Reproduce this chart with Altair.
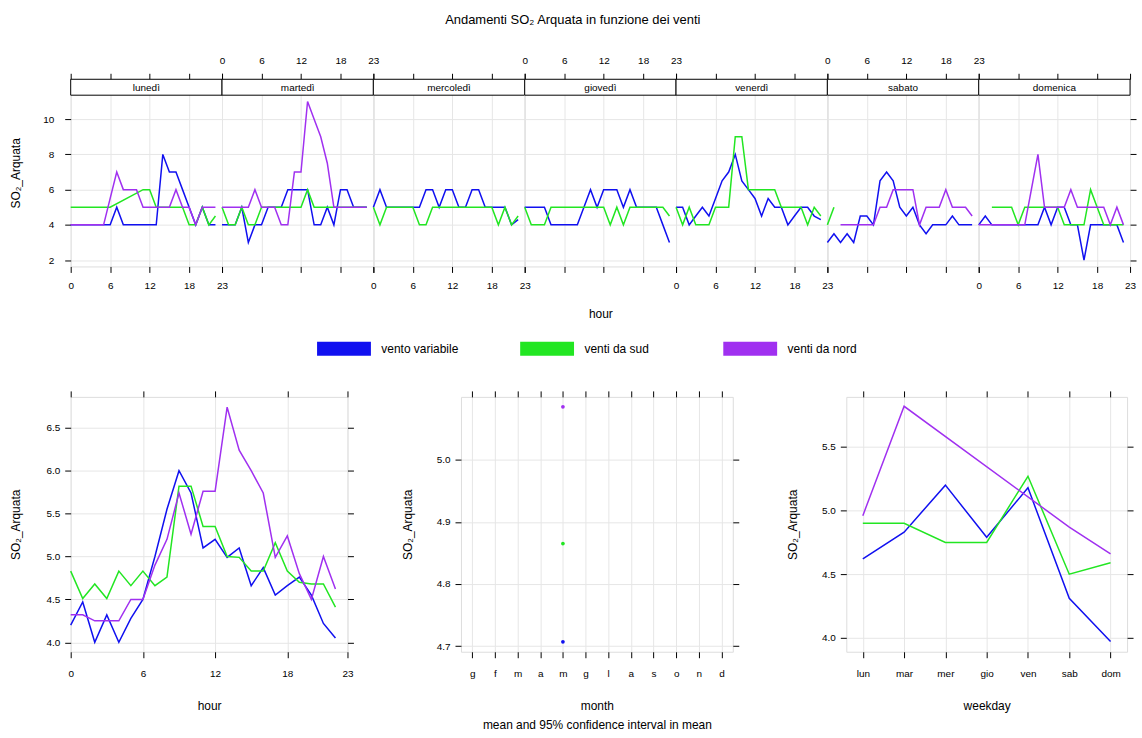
import json
import altair as alt
import pandas as pd

FONT = "Liberation Sans"
GRID = "#e6e6e6"
GROUPS = ["vento variabile", "venti da sud", "venti da nord"]
COLORS = ["#1010f0", "#22e622", "#a030f0"]
DAYS = ["lunedì", "martedì", "mercoledì", "giovedì", "venerdì", "sabato", "domenica"]
HOURS = list(range(23))
HOUR_TICKS = [0, 6, 12, 18, 23]
TOP_Y_TICKS = [2, 4, 6, 8, 10]
MONTH_LABELS = ["g", "f", "m", "a", "m", "g", "l", "a", "s", "o", "n", "d"]
WEEKDAY_LABELS = ["lun", "mar", "mer", "gio", "ven", "sab", "dom"]
N = None

# ---- hourly values by weekday (hour 0..22) ----
lun_var = [4, 4, 4, 4, 4, 4, 4, 5, 4, 4, 4, 4, 4, 4, 8, 7, 7, 6, 5, 4, 5, 4, 4]
lun_sud = [5, 5, 5, 5, 5, 5, 5, N, N, N, N, 6, 6, 5, 5, 5, 5, 5, 4, 4, 5, 4, 4.5]
lun_nord = [4, 4, 4, 4, 4, 4, 5.5, 7, 6, 6, 6, 5, 5, 5, 5, 5, 6, 5, 5, 4, 5, 5, 5]

mar_var = [4, 4, 4, 5, 3, 4, 4, 5, 5, 5, 6, 6, 6, 6, 4, 4, 5, 4, 6, 6, 5, 5, 5]
mar_sud = [5, 4, 4, 5, 4, 4, 5, 5, 5, 5, 5, 5, 5, 6, 5, 5, 5, 5, 5, 5, 5, 5, 5]
mar_nord = [5, 5, 5, 5, 5, 6, 5, 5, 5, 4, 4, 7, 7, 11, 10, 9, 7.5, 5, 5, 5, 5, 5, 5]

mer_var = [5, 6, 5, 5, 5, 5, 5, 5, 6, 6, 5, 6, 6, 5, 5, 6, 6, 5, 5, 5, 5, 4, 4.3]
mer_sud = [5, 4, 5, 5, 5, 5, 5, 4, 4, 5, 5, 5, 5, 5, 5, 5, 5, 5, 5, 4, 5, 4, 4.5]
mer_nord = [N] * 23

gio_var = [5, 5, 5, 5, 4, 4, 4, 4, 4, 5, 6, 5, 6, 6, 6, 5, 6, 5, 5, 5, 5, 4, 3]
gio_sud = [5, 4, 4, 4, 5, 5, 5, 5, 5, 5, 5, 5, 5, 4, 5, 4, 5, 5, 5, 5, 5, 5, 4.5]
gio_nord = [N] * 23

ven_var = [5, 5, 4, 4.5, 5, 4.5, 5.5, 6.5, 7, 8, 6.5, 6, 5.5, 4.5, 5.5, 5, 5, 4, 4.5, 5, 5, 4.5, 4.3]
ven_sud = [5, 4, 5, 4, 4, 4, 5, 5, 5, 9, 9, 6, 6, 6, 6, 6, 5, 5, 5, 5, 4, 5, 4.5]
ven_nord = [N] * 23

sab_var = [3, 3.5, 3, 3.5, 3, 4.5, 4.5, 4, 6.5, 7, 6.5, 5, 4.5, 5, 4, 3.5, 4, 4, 4, 4.5, 4, 4, 4]
sab_sud = [4, 5] + [N] * 21
sab_nord = [N, N, 4, 4, 4, 4, 4, 4, 5, 5, 6, 6, 6, 6, 4, 5, 5, 5, 6, 5, 5, 5, 4.5]

dom_var = [4, 4.5, 4, 4, 4, 4, 4, 4, 4, 4, 5, 4, 5, 5, 4, 4, 2, 4, 4, 4, 4, 4, 3]
dom_sud = [N, N, 5, 5, 5, 5, 4, 5, 5, 5, 5, 5, 5, 4, 4, 4, 4, 6, 5, 4, 4, 4, 4]
dom_nord = [4, 4, 4, 4, 4, 4, 4, 4, 6, 8, 5, 5, 5, 5, 6, 5, 5, 5, 5, 5, 4, 5, 4]

TOP_SERIES = {
    "lunedì": (lun_var, lun_sud, lun_nord),
    "martedì": (mar_var, mar_sud, mar_nord),
    "mercoledì": (mer_var, mer_sud, mer_nord),
    "giovedì": (gio_var, gio_sud, gio_nord),
    "venerdì": (ven_var, ven_sud, ven_nord),
    "sabato": (sab_var, sab_sud, sab_nord),
    "domenica": (dom_var, dom_sud, dom_nord),
}

# ---- mean by hour ----
hour_var = [4.2, 4.47, 4.0, 4.32, 4.0, 4.28, 4.5, 5.0, 5.55, 6.0, 5.74, 5.1, 5.2, 4.99, 5.1,
            4.66, 4.87, 4.55, 4.66, 4.76, 4.55, 4.22, 4.05]
hour_sud = [4.83, 4.51, 4.68, 4.51, 4.83, 4.66, 4.83, 4.66, 4.76, 5.82, 5.82, 5.35, 5.35, 5.0,
            4.99, 4.83, 4.83, 5.16, 4.83, 4.7, 4.68, 4.68, 4.41]
hour_nord = [4.32, 4.32, 4.25, 4.25, 4.25, 4.5, 4.5, 4.9, 5.2, 5.74, 5.26, 5.76, 5.76, 6.74,
             6.24, 6.0, 5.74, 4.99, 5.24, 4.8, 4.5, 5.0, 4.62]

# ---- mean by month (only May present) ----
MONTH_NUM = [5, 5, 5]
month_val = [4.707, 4.865, 5.085]

# ---- mean by weekday ----
wd_var = [4.62, 4.83, 5.20, 4.79, 5.18, 4.31, 3.97]
wd_sud = [4.90, 4.90, 4.75, 4.75, 5.27, 4.50, 4.59]
wd_nord = [4.96, 5.82, N, N, N, 4.87, 4.66]

TITLE = "Andamenti SO₂ Arquata in funzione dei venti"
Y_TITLE = "SO₂_Arquata"


def long_df(xname, xs, series):
    rows = []
    for grp, vals in zip(GROUPS, series):
        for x, v in zip(xs, vals):
            if v is not None:
                rows.append({"group": grp, xname: x, "value": v})
    return pd.DataFrame(rows)


top_parts = []
for day, triple in TOP_SERIES.items():
    d = long_df("hour", HOURS, triple)
    d["day"] = day
    top_parts.append(d)
top_df = pd.concat(top_parts, ignore_index=True)
hour_df = long_df("hour", HOURS, (hour_var, hour_sud, hour_nord))
month_df = pd.DataFrame({"group": GROUPS, "month": MONTH_NUM, "value": month_val})
wd_df = long_df("wd", list(range(1, 8)), (wd_var, wd_sud, wd_nord))

COLOR_SCALE = alt.Scale(domain=GROUPS, range=COLORS)


def ax(**kw):
    base = dict(labelFont=FONT, titleFont=FONT, labelFontSize=10, titleFontSize=12,
                titleFontWeight="normal", labelColor="black", titleColor="black",
                tickColor="black", domain=False, gridColor=GRID, gridWidth=1,
                labelFlush=False, labelOverlap=False)
    base.update(kw)
    return alt.Axis(**base)


PW, PH, SH = 152, 172, 16
TOP_YMIN, TOP_YMAX_DATA = 1.64, 11.36
TOP_YMAX = TOP_YMAX_DATA + SH * (TOP_YMAX_DATA - TOP_YMIN) / PH  # room for the strip


def top_panel(i, day):
    d = top_df[top_df.day == day]
    xs = alt.Scale(domain=[0, 23], nice=False, zero=False)
    ys = alt.Scale(domain=[TOP_YMIN, TOP_YMAX], nice=False, zero=False)
    xa = ax(values=HOUR_TICKS, tickSize=6, labels=(i % 2 == 0), labelPadding=8, grid=True,
            title=("hour" if i == 3 else None), titlePadding=36)
    if i == 0:
        ya = ax(values=TOP_Y_TICKS, tickSize=6, labelPadding=11, grid=True, title=Y_TITLE,
                titlePadding=20)
    elif i == 6:
        ya = ax(orient="right", values=TOP_Y_TICKS, tickSize=6, labels=False, grid=True, title=None)
    else:
        ya = ax(values=TOP_Y_TICKS, ticks=False, labels=False, grid=True, title=None)
    lines = alt.Chart(d).mark_line(strokeWidth=1.5).encode(
        x=alt.X("hour:Q", scale=xs, axis=xa),
        y=alt.Y("value:Q", scale=ys, axis=ya),
        color=alt.Color("group:N", scale=COLOR_SCALE, legend=None),
    )
    sd = pd.DataFrame({"day": [day]})
    strip_rect = alt.Chart(sd).mark_rect(fill="white", stroke="black", strokeWidth=1).encode(
        x=alt.value(0), x2=alt.value(PW), y=alt.value(0), y2=alt.value(SH))
    strip_text = alt.Chart(sd).mark_text(font=FONT, fontSize=10, color="black").encode(
        text="day:N", x=alt.value(PW / 2), y=alt.value(SH / 2 + 1))
    sa = ax(orient="top", values=HOUR_TICKS, tickSize=6, labels=(i % 2 == 1), labelPadding=8,
            grid=False, title=None)
    ghost = alt.Chart(pd.DataFrame({"hour": HOURS})).mark_point(opacity=0).encode(
        x=alt.X("hour:Q", scale=xs, axis=sa))
    return alt.layer(lines, strip_rect, strip_text, ghost).resolve_axis(x="independent").properties(
        width=PW, height=PH + SH)


BH = 256


def framed(main, ghost, width):
    return alt.layer(main, ghost).resolve_axis(x="independent", y="independent").properties(
        width=width, height=BH)


# hour panel
hxs = alt.Scale(domain=[0, 23], nice=False, zero=False)
hys = alt.Scale(domain=[3.89, 6.86], nice=False, zero=False)
hyt = [4.0, 4.5, 5.0, 5.5, 6.0, 6.5]
legend = alt.Legend(orient="none", legendX=262, legendY=-61, direction="horizontal", columns=3,
                    gridAlign="all", columnPadding=33, title=None, symbolType="M-5,0H5",
                    symbolSize=117, symbolStrokeWidth=14, symbolOpacity=1, labelFont=FONT,
                    labelFontSize=12, labelColor="black", labelOffset=25)
hour_main = alt.Chart(hour_df).mark_line(strokeWidth=1.5).encode(
    x=alt.X("hour:Q", scale=hxs, axis=ax(values=HOUR_TICKS, tickSize=6, labelPadding=11, grid=True,
                                          title="hour", titlePadding=22)),
    y=alt.Y("value:Q", scale=hys, axis=ax(values=hyt, format=".1f", tickSize=6, labelPadding=5,
                                           grid=True, title=Y_TITLE, titlePadding=24)),
    color=alt.Color("group:N", scale=COLOR_SCALE, legend=legend),
)
hour_ghost = alt.Chart(hour_df).mark_point(opacity=0).encode(
    x=alt.X("hour:Q", scale=hxs, axis=ax(orient="top", values=HOUR_TICKS, tickSize=6, labels=False,
                                          grid=False, title=None)),
    y=alt.Y("value:Q", scale=hys, axis=ax(orient="right", values=hyt, tickSize=6, labels=False,
                                           grid=False, title=None)),
)
hour_chart = framed(hour_main, hour_ghost, 278)

# month panel
mxs = alt.Scale(domain=[0.5, 12.5], nice=False, zero=False)
mys = alt.Scale(domain=[4.691, 5.101], nice=False, zero=False)
myt = [4.7, 4.8, 4.9, 5.0]
mlab = json.dumps(MONTH_LABELS) + "[datum.value - 1]"
month_main = alt.Chart(month_df).mark_point(filled=True, size=14, opacity=1).encode(
    x=alt.X("month:Q", scale=mxs, axis=ax(values=list(range(1, 13)), labelExpr=mlab, tickSize=6,
                                           labelPadding=11, grid=True,
                                           title=["month", "mean and 95% confidence interval in mean"],
                                           titleLineHeight=19, titlePadding=22)),
    y=alt.Y("value:Q", scale=mys, axis=ax(values=myt, format=".1f", tickSize=6, labelPadding=5,
                                           grid=True, title=Y_TITLE, titlePadding=22)),
    color=alt.Color("group:N", scale=COLOR_SCALE, legend=None),
)
month_ghost = alt.Chart(month_df).mark_point(opacity=0).encode(
    x=alt.X("month:Q", scale=mxs, axis=ax(orient="top", values=list(range(1, 13)), tickSize=6,
                                           labels=False, grid=False, title=None)),
    y=alt.Y("value:Q", scale=mys, axis=ax(orient="right", values=myt, tickSize=6, labels=False,
                                           grid=False, title=None)),
)
month_chart = framed(month_main, month_ghost, 273)

# weekday panel
wxs = alt.Scale(domain=[0.6, 7.4], nice=False, zero=False)
wys = alt.Scale(domain=[3.89, 5.894], nice=False, zero=False)
wyt = [4.0, 4.5, 5.0, 5.5]
wlab = json.dumps(WEEKDAY_LABELS) + "[datum.value - 1]"
wd_main = alt.Chart(wd_df).mark_line(strokeWidth=1.5).encode(
    x=alt.X("wd:Q", scale=wxs, axis=ax(values=list(range(1, 8)), labelExpr=wlab, tickSize=6,
                                        labelPadding=11, grid=True, title="weekday", titlePadding=22)),
    y=alt.Y("value:Q", scale=wys, axis=ax(values=wyt, format=".1f", tickSize=6, labelPadding=5,
                                           grid=True, title=Y_TITLE, titlePadding=22)),
    color=alt.Color("group:N", scale=COLOR_SCALE, legend=None),
)
wd_ghost = alt.Chart(wd_df).mark_point(opacity=0).encode(
    x=alt.X("wd:Q", scale=wxs, axis=ax(orient="top", values=list(range(1, 8)), tickSize=6,
                                        labels=False, grid=False, title=None)),
    y=alt.Y("value:Q", scale=wys, axis=ax(orient="right", values=wyt, tickSize=6, labels=False,
                                           grid=False, title=None)),
)
wd_chart = framed(wd_main, wd_ghost, 282)

top_row = alt.hconcat(*[top_panel(i, d) for i, d in enumerate(DAYS)], spacing=0,
                      bounds="flush").resolve_scale(color="independent")
bottom_row = alt.hconcat(hour_chart, month_chart, wd_chart, spacing=114,
                         bounds="flush").resolve_scale(color="independent")

chart = alt.vconcat(top_row, bottom_row, spacing=15).resolve_scale(color="independent").properties(
    title=alt.TitleParams(TITLE, font=FONT, fontSize=13, fontWeight="normal", color="black",
                          anchor="middle", offset=28),
    padding={"left": 8, "top": 12, "right": 5, "bottom": 5},
).configure_view(stroke="black", strokeWidth=1).configure(background="white")

chart.save("out.html", embed_options={"renderer": "svg", "actions": False})
